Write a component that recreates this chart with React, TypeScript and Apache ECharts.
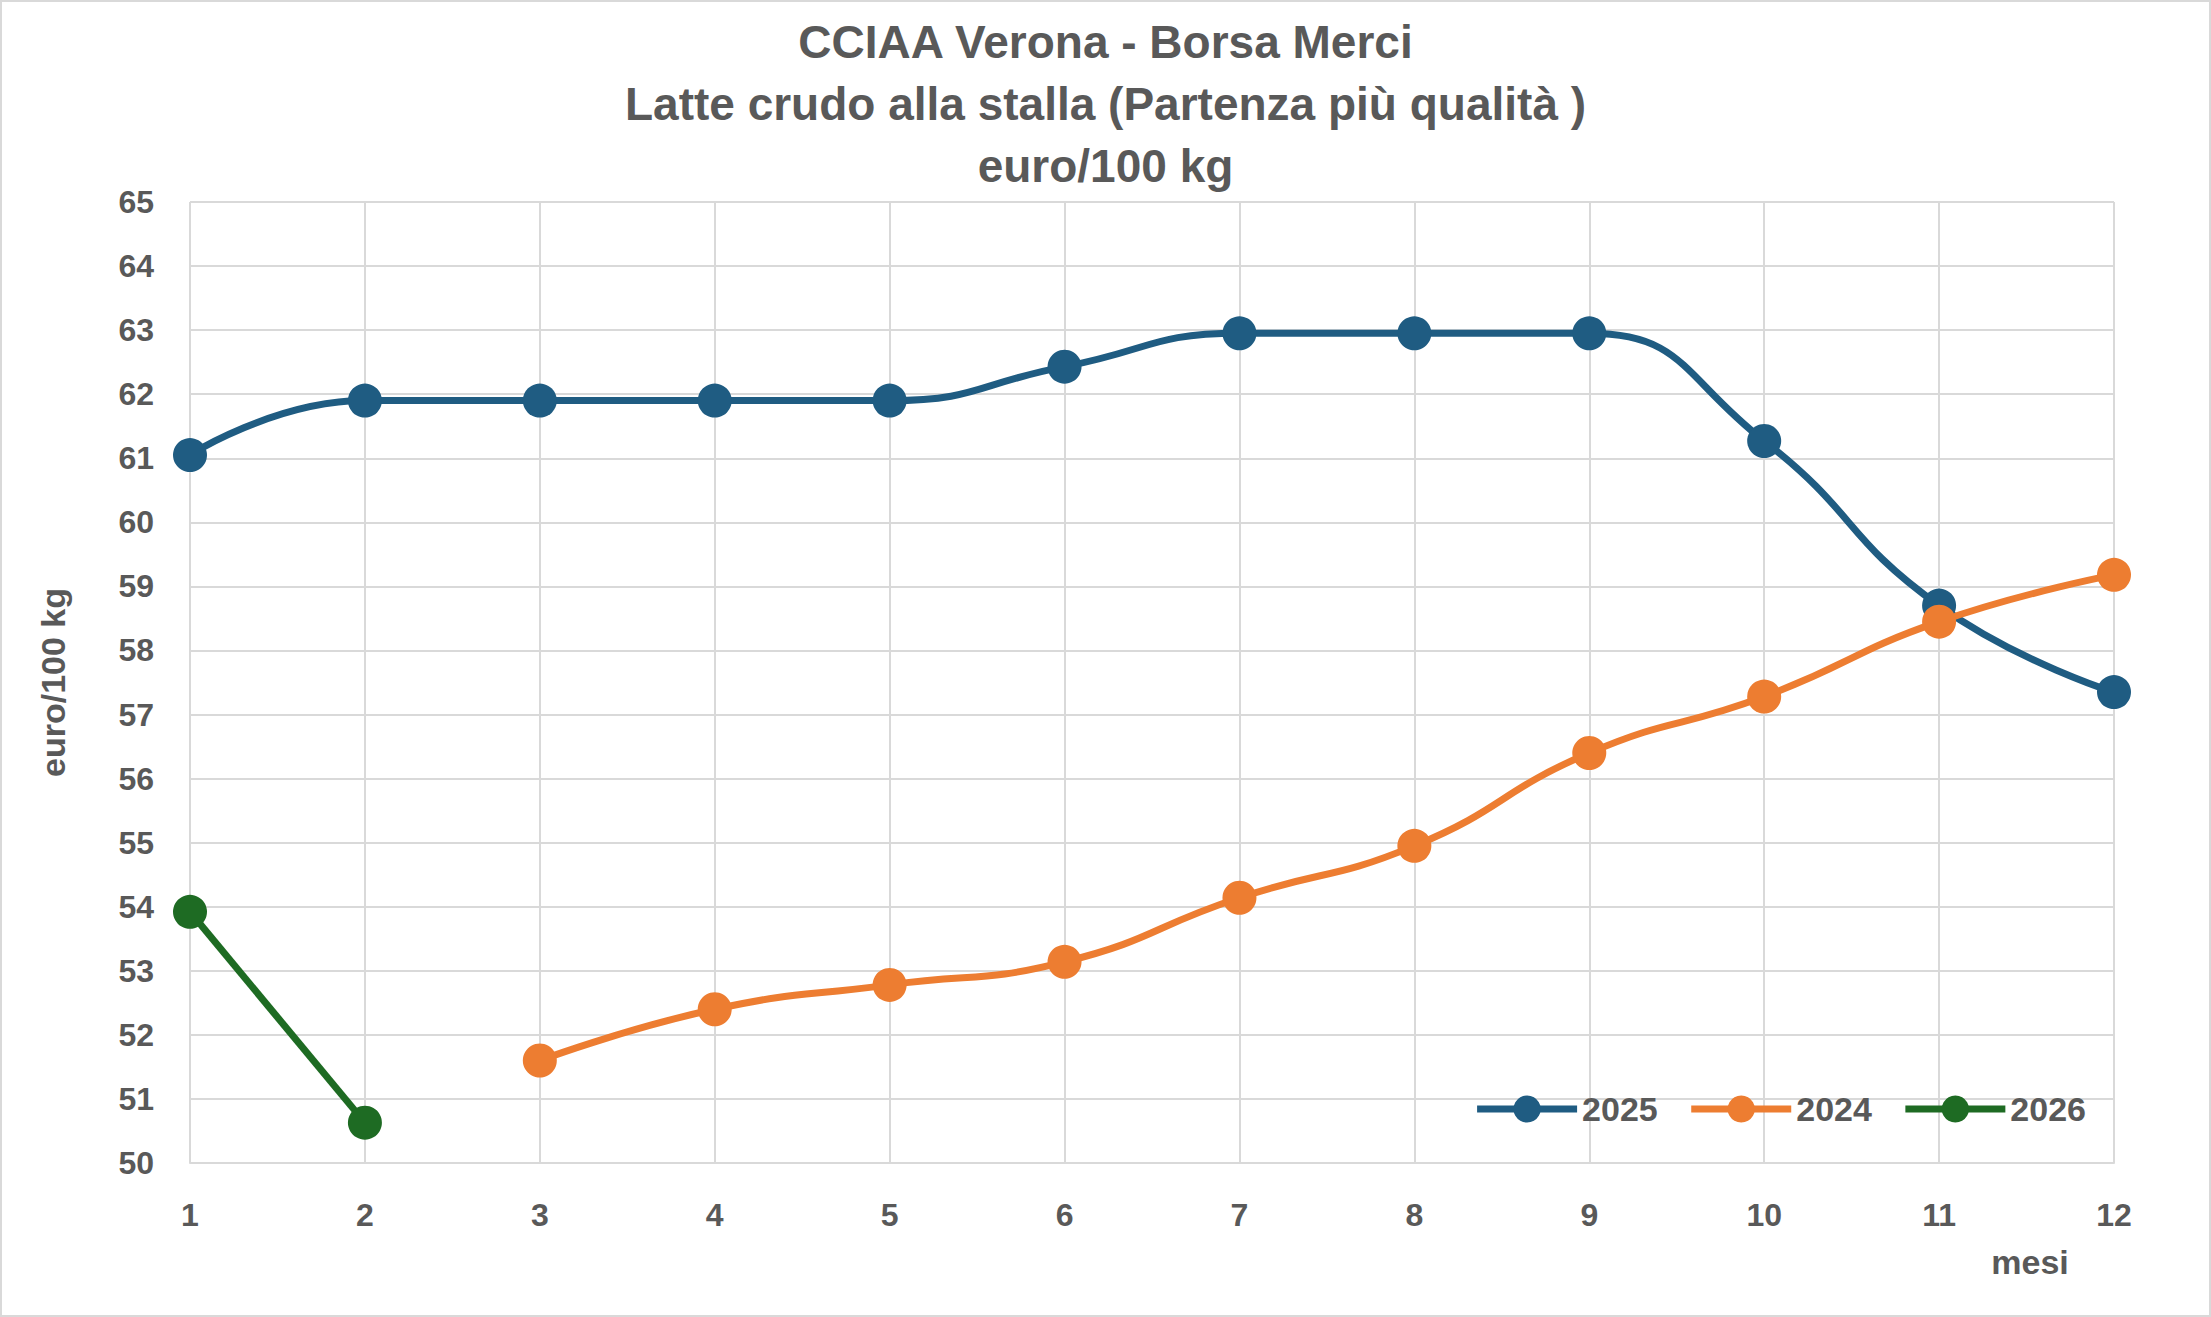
import { useEffect, useRef } from 'react';
import * as echarts from 'echarts';

const months = [1, 2, 3, 4, 5, 6, 7, 8, 9, 10, 11, 12];
const values2025 = [61.05, 61.9, 61.9, 61.9, 61.9, 62.43, 62.95, 62.95, 62.95, 61.27, 58.7, 57.35];
const values2024 = [null, null, 51.6, 52.4, 52.78, 53.14, 54.14, 54.95, 56.4, 57.28, 58.45, 59.18];
const values2026 = [53.92, 50.63];

const pairs = (vals: (number | null)[]) =>
  vals.map((v, i) => [months[i], v]).filter((p) => p[1] !== null);

const TEXT = '#595959';

const App = () => {
  const chartRef = useRef<HTMLDivElement>(null);

  useEffect(() => {
    document.body.style.margin = '0';
    if (!chartRef.current) return;
    const chart = echarts.init(chartRef.current, null, { renderer: 'svg' });
    const line = (name: string, color: string, data: any[]) => ({
      name,
      type: 'line',
      smooth: 0.5,
      data,
      symbol: 'circle',
      symbolSize: 34,
      lineStyle: { color, width: 7 },
      itemStyle: { color },
    });
    chart.setOption({
      animation: false,
      backgroundColor: '#fff',
      textStyle: { fontFamily: 'Liberation Sans, Arial, sans-serif' },
      title: {
        text: 'CCIAA Verona - Borsa Merci\nLatte crudo alla stalla (Partenza più qualità )\neuro/100 kg',
        left: 'center',
        top: 6,
        textStyle: { color: TEXT, fontSize: 46, fontWeight: 'bold', lineHeight: 62 },
      },
      legend: {
        right: 120,
        top: 1087,
        itemWidth: 100,
        itemHeight: 34,
        itemGap: 30,
        lineStyle: { width: 7 },
        textStyle: { color: TEXT, fontSize: 34, fontWeight: 'bold' },
        data: ['2025', '2024', '2026'],
      },
      grid: { left: 190, right: 97, top: 202, bottom: 154 },
      xAxis: {
        type: 'value',
        min: 1,
        max: 12,
        interval: 1,
        axisLine: { lineStyle: { color: '#d9d9d9', width: 2 } },
        axisTick: { show: false },
        axisLabel: { color: TEXT, fontSize: 32, fontWeight: 'bold', margin: 36 },
        splitLine: { lineStyle: { color: '#d9d9d9', width: 2 } },
      },
      yAxis: {
        type: 'value',
        min: 50,
        max: 65,
        interval: 1,
        name: 'euro/100 kg',
        nameLocation: 'middle',
        nameGap: 120,
        nameTextStyle: { color: TEXT, fontSize: 34, fontWeight: 'bold' },
        axisLine: { show: false },
        axisTick: { show: false },
        axisLabel: { color: TEXT, fontSize: 32, fontWeight: 'bold', margin: 36 },
        splitLine: { lineStyle: { color: '#d9d9d9', width: 2 } },
      },
      graphic: [
        { type: 'rect', shape: { x: 1, y: 1, width: 2209, height: 1315 }, style: { fill: 'none', stroke: '#d9d9d9', lineWidth: 2 } },
        { type: 'text', x: 2030, y: 1262, style: { text: 'mesi', fill: TEXT, font: 'bold 34px Liberation Sans, Arial, sans-serif', align: 'center', verticalAlign: 'middle' } },
      ],
      series: [
        line('2025', '#1F5C82', pairs(values2025)),
        line('2024', '#ED7D31', pairs(values2024)),
        line('2026', '#1E6B23', pairs(values2026)),
      ],
    });
    return () => chart.dispose();
  }, []);

  return <div ref={chartRef} style={{ width: 2211, height: 1317 }} />;
};

export default App;
